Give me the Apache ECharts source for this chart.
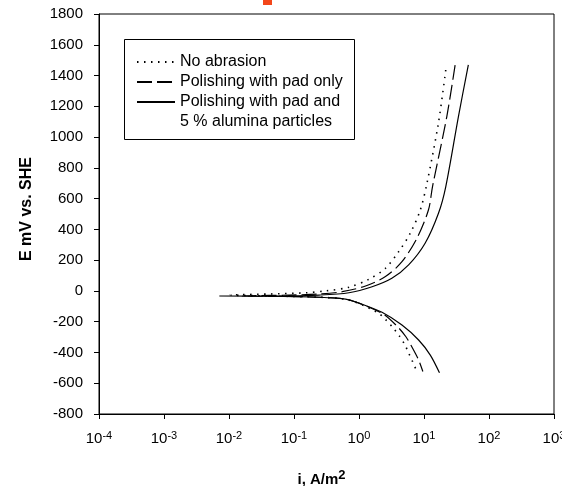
<!DOCTYPE html>
<html>
<head>
<meta charset="utf-8">
<script src="https://cdn.jsdelivr.net/npm/echarts@6/dist/echarts.min.js"></script>
<style>html,body{margin:0;padding:0;background:#fff;}#c{width:562px;height:486px;}</style>
</head>
<body>
<div id="c"></div>
<script>
// Series names
var seriesNames = ['No abrasion', 'Polishing with pad only', 'Polishing with pad and\n5 % alumina particles'];

// No abrasion (dotted): current density i (A/m2) and potential E (mV vs SHE)
var noAbrasionI = [21.6, 16.7, 11.1, 8.77, 6.15, 4.07, 2.55, 1.42, 0.70, 0.307, 0.152, 0.0416, 0.0105,
                   0.0416, 0.243, 0.70, 1.90, 2.55, 3.30, 4.18, 5.04, 5.8, 6.68, 7.6];
var noAbrasionE = [1436, 1093, 700, 526, 375, 255, 147, 76, 24, 0, -12, -20, -27,
                   -33, -41, -59, -139, -185, -237, -293, -347, -403, -460, -514];

// Polishing with pad only (dashed)
var padOnlyI = [30.1, 22.4, 13.5, 11.7, 7.77, 4.58, 2.55, 1.26, 0.552, 0.243, 0.084, 0.016,
                0.084, 0.243, 0.70, 2.26, 3.71, 5.27, 6.68, 8.26, 9.6];
var padOnlyE = [1468, 1132, 677, 526, 342, 190, 93, 32, -5, -20, -27, -33,
                -36, -41, -59, -146, -222, -298, -373, -449, -524];

// Polishing with pad and 5 % alumina particles (solid)
var aluminaI = [48.1, 33.8, 21.6, 16.7, 10.4, 5.8, 3.2, 1.59, 0.70, 0.243, 0.059, 0.0071,
                0.059, 0.243, 0.62, 1.0, 2.26, 4.58, 8.26, 12.5, 17.3];
var aluminaE = [1470, 1132, 677, 505, 310, 169, 82, 27, -12, -27, -33, -33,
                -36, -41, -53, -79, -139, -222, -319, -417, -532];

// Axis ticks
var xMin = 1e-4, xMax = 1e3;
var yMin = -800, yMax = 1800, yStep = 200;

function pairs(xs, ys) { return xs.map(function (x, k) { return [x, ys[k]]; }); }

var FONT = 'Liberation Sans, Arial, sans-serif';
var chart = echarts.init(document.getElementById('c'), null, {renderer: 'canvas'});

var supRich = {
  b: {fontSize: 15, fontFamily: FONT, color: '#000', lineHeight: 17},
  s: {fontSize: 11, fontFamily: FONT, color: '#000', verticalAlign: 'top', lineHeight: 12}
};

var legendBase = {
  orient: 'vertical', left: 136, padding: 0, itemGap: 0,
  itemWidth: 38, itemHeight: 14,
  itemStyle: {color: 'rgba(0,0,0,0)', borderWidth: 0, opacity: 0},
  textStyle: {fontSize: 16, fontFamily: FONT, color: '#000', lineHeight: 20},
  selectedMode: false, z: 5
};

var option = {
  animation: false,
  backgroundColor: '#fff',
  grid: {left: 99, right: 8, top: 14, bottom: 72, show: true, borderColor: '#000', borderWidth: 1,
         containLabel: false, outerBoundsMode: 'none'},
  xAxis: {
    type: 'log', logBase: 10, min: xMin, max: xMax,
    name: '{t|i, A/m}{p|2}', nameLocation: 'middle', nameGap: 55,
    nameTextStyle: {
      padding: [0, 10, 0, 0],
      rich: {
        t: {fontSize: 15, fontWeight: 'bold', fontFamily: FONT, color: '#000', lineHeight: 18, verticalAlign: 'bottom'},
        p: {fontSize: 13, fontWeight: 'bold', fontFamily: FONT, color: '#000', lineHeight: 18, verticalAlign: 'top', padding: [0, 0, 6, 0]}
      }
    },
    axisLine: {show: true, onZero: false, lineStyle: {color: '#000', width: 1}},
    axisTick: {show: true, inside: false, length: 5, lineStyle: {color: '#000'}},
    minorTick: {show: false},
    splitLine: {show: false},
    axisLabel: {
      margin: 16, hideOverlap: false,
      formatter: function (v) {
        var e = Math.round(Math.log(v) / Math.LN10);
        return '{b|10}{s|' + e + '}';
      },
      rich: supRich
    }
  },
  yAxis: {
    type: 'value', min: yMin, max: yMax, interval: yStep,
    name: 'E mV vs. SHE', nameLocation: 'middle', nameGap: 64,
    nameTextStyle: {fontSize: 16, fontWeight: 'bold', fontFamily: FONT, color: '#000', padding: [0, 0, 0, 10]},
    axisLine: {show: true, onZero: false, lineStyle: {color: '#000', width: 1}},
    axisTick: {show: true, inside: false, length: 5, lineStyle: {color: '#000'}},
    splitLine: {show: false},
    axisLabel: {margin: 16, fontSize: 15, fontFamily: FONT, color: '#000',
      formatter: function (v) { return String(v); }}
  },
  graphic: [
    {type: 'rect', left: 124, top: 39, shape: {x: 0, y: 0, width: 230, height: 100},
     style: {fill: '#fff', stroke: '#000', lineWidth: 1}, z: 1},
    {type: 'rect', left: 263, top: 0, shape: {x: 0, y: 0, width: 9, height: 5},
     style: {fill: '#f3461a'}, z: 10}
  ],
  legend: [
    Object.assign({}, legendBase, {data: [seriesNames[0], seriesNames[1]], top: 52}),
    Object.assign({}, legendBase, {data: [seriesNames[2]], top: 72,
      formatter: function (name) { return ' \n' + name; }})
  ],
  series: [
    {name: seriesNames[0], type: 'line', data: pairs(noAbrasionI, noAbrasionE), smooth: 0.3,
     symbol: 'none', showSymbol: false, z: 3,
     lineStyle: {color: '#000', width: 1.6, type: [1.5, 5.5], cap: 'butt'}, itemStyle: {color: '#000'}},
    {name: seriesNames[1], type: 'line', data: pairs(padOnlyI, padOnlyE), smooth: 0.3,
     symbol: 'none', showSymbol: false, z: 3,
     lineStyle: {color: '#000', width: 1.2, type: [15, 5]}, itemStyle: {color: '#000'}},
    {name: seriesNames[2], type: 'line', data: pairs(aluminaI, aluminaE), smooth: 0.3,
     symbol: 'none', showSymbol: false, z: 3,
     lineStyle: {color: '#000', width: 1.2, type: 'solid'}, itemStyle: {color: '#000'}}
  ]
};
chart.setOption(option);
</script>
</body>
</html>
